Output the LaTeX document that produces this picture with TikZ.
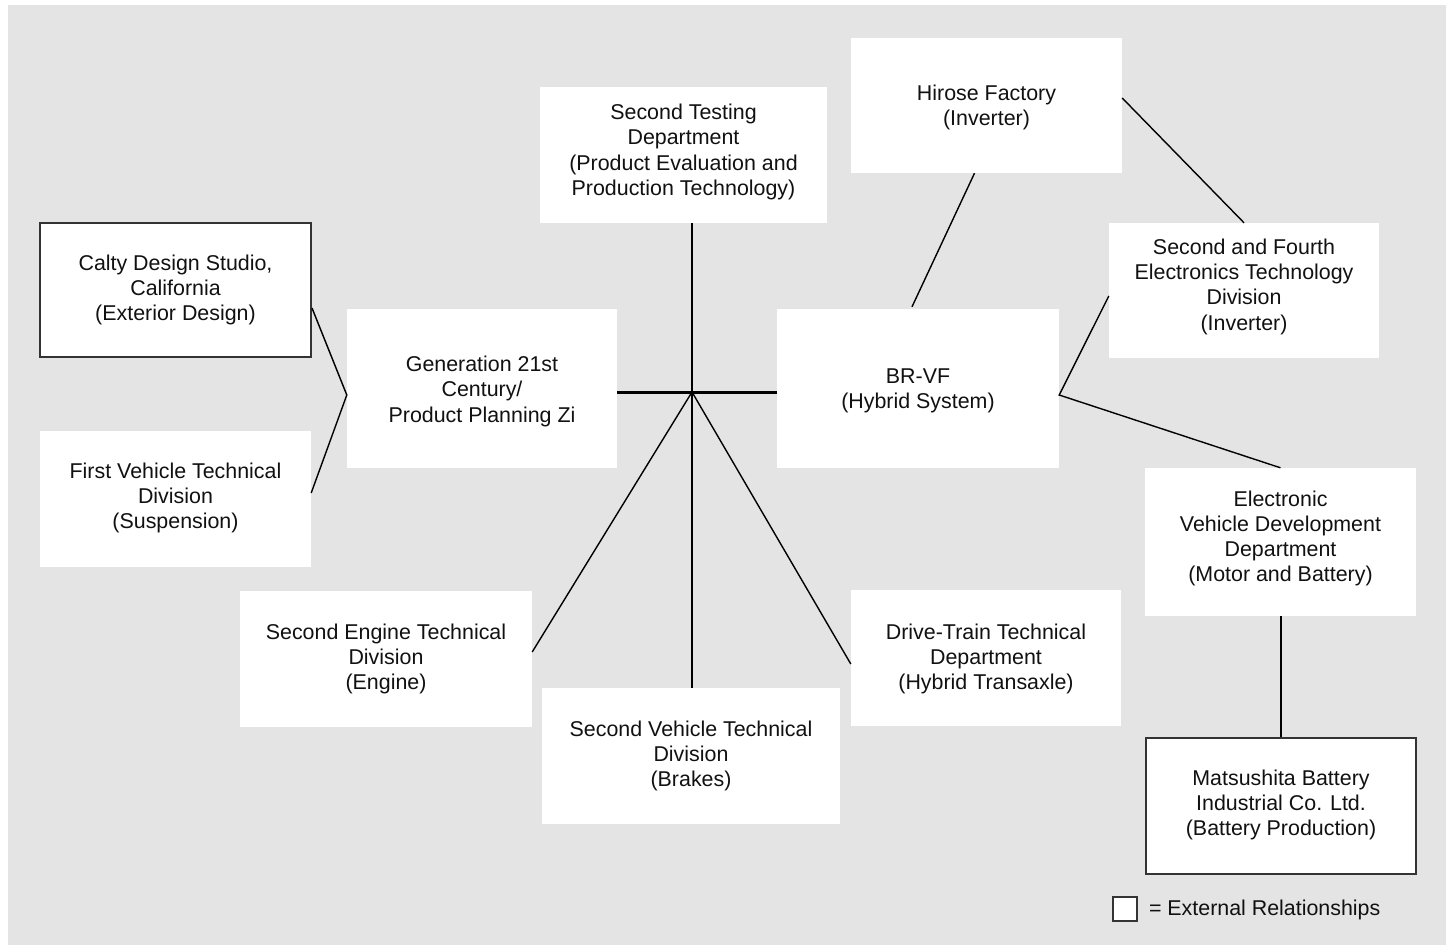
\documentclass[tikz,border=0pt]{standalone}
\usepackage{fontspec}
\setmainfont{Liberation Sans}
\usetikzlibrary{calc}
\definecolor{panel}{HTML}{E4E4E4}
\definecolor{ink}{HTML}{111111}
\definecolor{frame}{HTML}{333333}
\begin{document}
\begin{tikzpicture}[x=1pt,y=-1pt,
  unit/.style={fill=white, inner sep=0pt},
  external/.style={unit, draw=frame, line width=2pt},
  caption/.style={inner sep=0pt, align=center, text=ink,
    font=\fontsize{21.4}{25.2}\selectfont},
  link/.style={draw=black, line width=1.4pt},
  spine/.style={draw=black, line width=3pt}]
  % canvas and panel
  \useasboundingbox (0,0) rectangle (1446,945);
  \fill[white] (0,0) rectangle (1446,945);
  \fill[panel] (8,5) rectangle (1446,945);

  % unit boxes
  \node[unit, minimum width=287pt, minimum height=136pt] (st) at (683.5,155) {};
  \node[unit, minimum width=271pt, minimum height=135pt] (hir) at (986.5,105.5) {};
  \node[external, minimum width=271pt, minimum height=134pt] (cal) at (175.5,290) {};
  \node[unit, minimum width=270pt, minimum height=159pt] (gen) at (482,388.5) {};
  \node[unit, minimum width=282pt, minimum height=159pt] (brv) at (918,388.5) {};
  \node[unit, minimum width=270pt, minimum height=135pt] (sfe) at (1244,290.5) {};
  \node[unit, minimum width=271pt, minimum height=136pt] (fvt) at (175.5,499) {};
  \node[unit, minimum width=271pt, minimum height=148pt] (evd) at (1280.5,542) {};
  \node[unit, minimum width=292pt, minimum height=136pt] (set) at (386,659) {};
  \node[unit, minimum width=298pt, minimum height=136pt] (svt) at (691,756) {};
  \node[unit, minimum width=270pt, minimum height=136pt] (dtt) at (986,658) {};
  \node[external, minimum width=270pt, minimum height=136pt] (mat) at (1281,806) {};

  % unit names
  \node[caption] (st-t) at ([yshift=3pt]st.center)
    {Second Testing\\Department\\(Product Evaluation and\\Production Technology)};
  \node[caption] (hir-t) at ([yshift=-2.3pt]hir.center) {Hirose Factory\\(Inverter)};
  \node[caption] (cal-t) at (cal.center) {Calty Design Studio,\\California\\(Exterior Design)};
  \node[caption] (gen-t) at ([yshift=-2.8pt]gen.center) {Generation 21st\\Century/\\Product Planning Zi};
  \node[caption] (brv-t) at ([yshift=-2.3pt]brv.center) {BR-VF\\(Hybrid System)};
  \node[caption] (sfe-t) at ([yshift=3.7pt]sfe.center)
    {Second and Fourth\\Electronics Technology\\Division\\(Inverter)};
  \node[caption] (fvt-t) at ([yshift=1.2pt]fvt.center) {First Vehicle Technical\\Division\\(Suspension)};
  \node[caption] (evd-t) at ([yshift=3.7pt]evd.center)
    {Electronic\\Vehicle Development\\Department\\(Motor and Battery)};
  \node[caption] (set-t) at (set.center) {Second Engine Technical\\Division\\(Engine)};
  \node[caption] (svt-t) at (svt.center) {Second Vehicle Technical\\Division\\(Brakes)};
  \node[caption] (dtt-t) at ([yshift=-0.8pt]dtt.center) {Drive-Train Technical\\Department\\(Hybrid Transaxle)};
  \node[caption] (mat-t) at ([yshift=1.2pt]mat.center)
    {Matsushita Battery\\Industrial Co. Ltd.\\(Battery Production)};

  % central hub
  \coordinate (hub) at (692,392);
  \draw[spine] ([yshift=-3.5pt]gen.east) -- ([yshift=-3.5pt]brv.west);
  \draw[link] ([xshift=8.5pt]st.south) -- ([xshift=1pt]svt.north);
  \draw[link] (hub) -- ([yshift=7pt]set.east);
  \draw[link] (hub) -- ([yshift=-6pt]dtt.west);

  % left branch
  \coordinate (gj) at ([yshift=-6.5pt]gen.west);
  \draw[link] ([yshift=-18pt]cal.east) -- (gj) -- ([yshift=6pt]fvt.east);

  % right branches
  \coordinate (bj) at ([yshift=-6.5pt]brv.east);
  \draw[link] ([yshift=-5.5pt]sfe.west) -- (bj) -- (evd.north);
  \draw[link] ([xshift=-6pt,yshift=2pt]brv.north) -- ([xshift=-12pt]hir.south);
  \draw[link] ([yshift=7.5pt]hir.east) -- (sfe.north);
  \draw[link] ([xshift=0.5pt]evd.south) -- (mat.north);

  % legend
  \node[external, line width=1.6pt, minimum width=24pt, minimum height=24pt] (key) at (1125,909) {};
  \node[caption, anchor=west] (keytext) at ([xshift=11pt,yshift=-1pt]key.east) {= External Relationships};
\end{tikzpicture}
\end{document}
